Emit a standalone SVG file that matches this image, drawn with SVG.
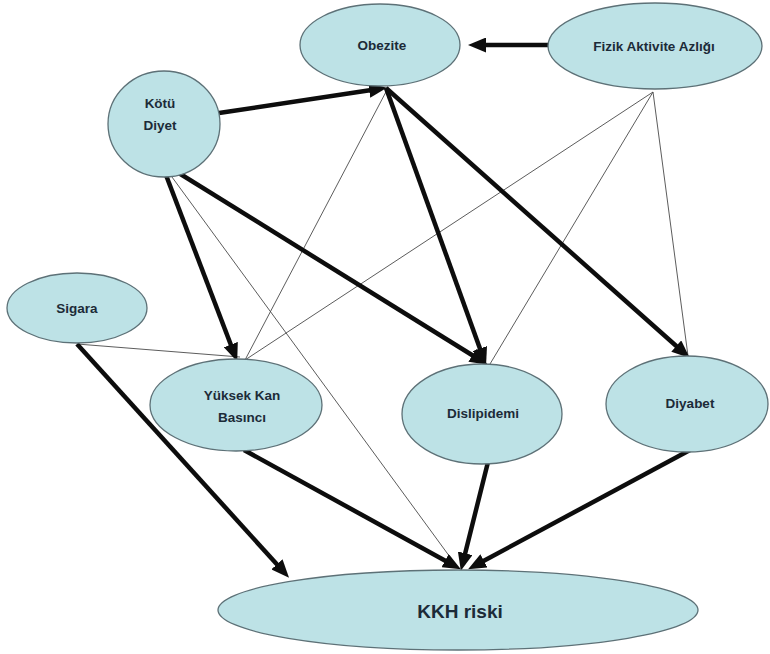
<svg xmlns="http://www.w3.org/2000/svg" width="770" height="654" viewBox="0 0 770 654">
  <style>
    .node ellipse { fill: #bde2e6; stroke: #5d7177; stroke-width: 1.3; }
    .node text { font-family: "Liberation Sans", Arial, sans-serif; font-size: 13.5px; font-weight: bold; fill: #1c2b38; text-anchor: middle; }
    .big text { font-size: 19px; }
    .thick { stroke: #0d0d0d; stroke-width: 4.5; fill: none; marker-end: url(#head); }
    .thin { stroke: #4a4a4a; stroke-width: 0.9; fill: none; }
  </style>
  <defs>
    <marker id="head" markerUnits="userSpaceOnUse" markerWidth="19" markerHeight="15" refX="9" refY="7.5" orient="auto">
      <path d="M0,0 L18,7.5 L0,15 z" fill="#0d0d0d"/>
    </marker>
  </defs>
  <rect width="770" height="654" fill="#ffffff"/>

  <g id="connectors">
    <!-- thin influence lines -->
    <line class="thin" x1="161" y1="162" x2="458" y2="568"/>
    <line class="thin" x1="388" y1="88" x2="245" y2="360"/>
    <line class="thin" x1="653" y1="92" x2="245" y2="360"/>
    <line class="thin" x1="653" y1="92" x2="490" y2="364"/>
    <line class="thin" x1="653" y1="92" x2="688" y2="356"/>
    <line class="thin" x1="77" y1="344" x2="240" y2="357" stroke-width="1.4"/>
    <!-- strong influence arrows -->
    <line class="thick" x1="550" y1="45" x2="477" y2="45"/>
    <line class="thick" x1="219" y1="113" x2="378" y2="89"/>
    <line class="thick" x1="161" y1="162" x2="234" y2="353"/>
    <line class="thick" x1="161" y1="162" x2="480" y2="360"/>
    <line class="thick" x1="386" y1="88" x2="483" y2="357"/>
    <line class="thick" x1="386" y1="88" x2="683" y2="352"/>
    <line class="thick" x1="77" y1="344" x2="283" y2="571"/>
    <line class="thick" x1="244" y1="450" x2="453" y2="565"/>
    <line class="thick" x1="488" y1="462" x2="463" y2="562"/>
    <line class="thick" x1="690" y1="450" x2="476" y2="565"/>
  </g>

  <g id="obezite" class="node">
    <ellipse cx="380" cy="45" rx="80" ry="41"/>
    <text x="382" y="50">Obezite</text>
  </g>
  <g id="fizik-aktivite" class="node">
    <ellipse cx="655" cy="46" rx="107" ry="43"/>
    <text x="654" y="51">Fizik Aktivite Azlığı</text>
  </g>
  <g id="kotu-diyet" class="node">
    <ellipse cx="164" cy="124" rx="56" ry="53"/>
    <text x="160" y="108">Kötü</text>
    <text x="160" y="130">Diyet</text>
  </g>
  <g id="sigara" class="node">
    <ellipse cx="77" cy="308" rx="70" ry="35"/>
    <text x="77" y="313">Sigara</text>
  </g>
  <g id="yuksek-kan-basinci" class="node">
    <ellipse cx="236" cy="405" rx="86" ry="46"/>
    <text x="242" y="400">Yüksek Kan</text>
    <text x="242" y="422">Basıncı</text>
  </g>
  <g id="dislipidemi" class="node">
    <ellipse cx="482" cy="414" rx="80" ry="50"/>
    <text x="483" y="418">Dislipidemi</text>
  </g>
  <g id="diyabet" class="node">
    <ellipse cx="687" cy="404" rx="81" ry="48"/>
    <text x="690" y="408">Diyabet</text>
  </g>
  <g id="kkh-riski" class="node big">
    <ellipse cx="458" cy="610" rx="240" ry="40"/>
    <text x="460" y="618">KKH riski</text>
  </g>
</svg>
